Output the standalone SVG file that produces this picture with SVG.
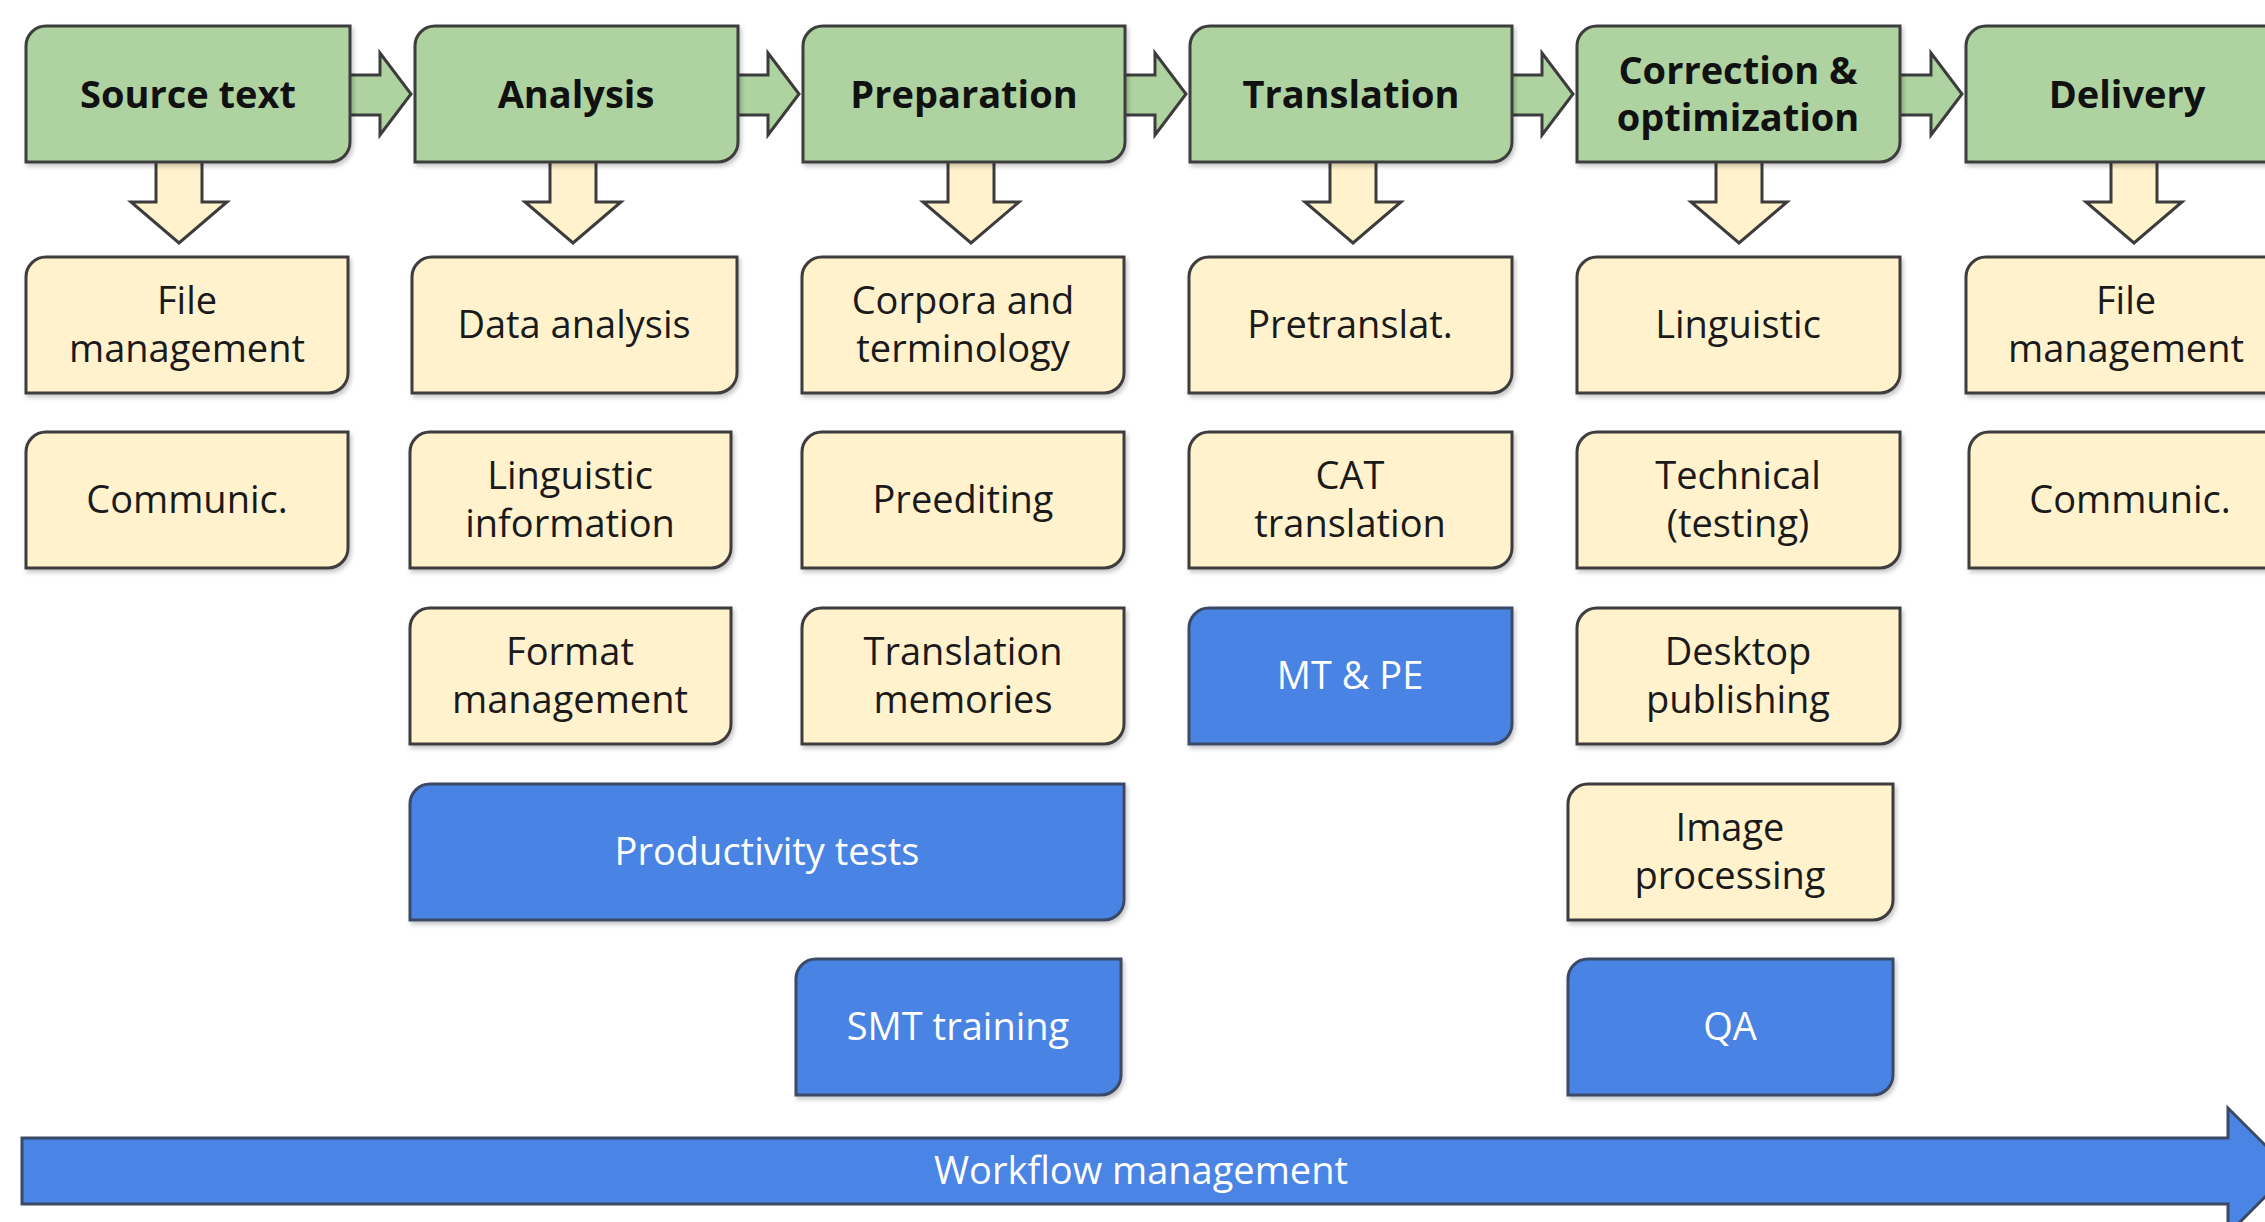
<svg xmlns="http://www.w3.org/2000/svg" width="2265" height="1222" viewBox="0 0 2265 1222">
<defs>
<filter id="sh" x="-5%" y="-5%" width="110%" height="120%">
<feDropShadow dx="2" dy="3" stdDeviation="2" flood-color="#000" flood-opacity="0.22"/>
</filter>
<style>
.g{fill:#aed3a0;stroke:#3c3c3c;stroke-width:3;filter:url(#sh)}
.c{fill:#fff2cc;stroke:#3c3c3c;stroke-width:3;filter:url(#sh)}
.b{fill:#4a84e4;stroke:#3a4a66;stroke-width:3;filter:url(#sh)}
.ha{fill:#aed3a0;stroke:#3c3c3c;stroke-width:3;stroke-linejoin:miter}
.da{fill:#fff2cc;stroke:#3c3c3c;stroke-width:3;stroke-linejoin:miter}
.wa{fill:#4a84e4;stroke:#3a4a66;stroke-width:3}
text{font-family:"Open Sans","Noto Sans",sans-serif;text-anchor:middle}
.ht{font-size:38px;font-weight:700;fill:#111}
.t{font-size:38px;fill:#1a1a1a}
.w{font-size:38px;fill:#fff}
</style>
</defs>
<rect width="2265" height="1222" fill="#fff"/>
<g id="connectors">
<polygon class="ha" points="348,75 380,75 380,53 411,94 380,135 380,115 348,115"/>
<polygon class="ha" points="736,75 768,75 768,53 799,94 768,135 768,115 736,115"/>
<polygon class="ha" points="1123,75 1155,75 1155,53 1186,94 1155,135 1155,115 1123,115"/>
<polygon class="ha" points="1510,75 1542,75 1542,53 1573,94 1542,135 1542,115 1510,115"/>
<polygon class="ha" points="1898,75 1931,75 1931,53 1962,94 1931,135 1931,115 1898,115"/>
<polygon class="da" points="156,160 202,160 202,202 227,202 179,243 131,202 156,202"/>
<polygon class="da" points="550,160 596,160 596,202 621,202 573,243 525,202 550,202"/>
<polygon class="da" points="948,160 994,160 994,202 1019,202 971,243 923,202 948,202"/>
<polygon class="da" points="1330,160 1376,160 1376,202 1401,202 1353,243 1305,202 1330,202"/>
<polygon class="da" points="1716,160 1762,160 1762,202 1787,202 1739,243 1691,202 1716,202"/>
<polygon class="da" points="2111,160 2157,160 2157,202 2182,202 2134,243 2086,202 2111,202"/>
</g>
<g id="stages">
<g id="source-text"><path class="g" d="M46,26 H350 V142 A20,20 0 0 1 330,162 H26 V46 A20,20 0 0 1 46,26 Z"/><text class="ht" x="188" y="108">Source text</text></g>
<g id="analysis"><path class="g" d="M435,26 H738 V142 A20,20 0 0 1 718,162 H415 V46 A20,20 0 0 1 435,26 Z"/><text class="ht" x="576" y="108">Analysis</text></g>
<g id="preparation"><path class="g" d="M823,26 H1125 V142 A20,20 0 0 1 1105,162 H803 V46 A20,20 0 0 1 823,26 Z"/><text class="ht" x="964" y="108">Preparation</text></g>
<g id="translation"><path class="g" d="M1210,26 H1512 V142 A20,20 0 0 1 1492,162 H1190 V46 A20,20 0 0 1 1210,26 Z"/><text class="ht" x="1351" y="108">Translation</text></g>
<g id="correction"><path class="g" d="M1597,26 H1900 V142 A20,20 0 0 1 1880,162 H1577 V46 A20,20 0 0 1 1597,26 Z"/><text class="ht" x="1738" y="84">Correction &amp;</text><text class="ht" x="1738" y="131">optimization</text></g>
<g id="delivery"><path class="g" d="M1986,26 H2289 V142 A20,20 0 0 1 2269,162 H1966 V46 A20,20 0 0 1 1986,26 Z"/><text class="ht" x="2127" y="108">Delivery</text></g>
</g>
<g id="tasks">
<g id="file-mgmt-1"><path class="c" d="M46,257 H348 V373 A20,20 0 0 1 328,393 H26 V277 A20,20 0 0 1 46,257 Z"/><text class="t" x="187" y="314">File</text><text class="t" x="187" y="362">management</text></g>
<g id="communic-1"><path class="c" d="M46,432 H348 V548 A20,20 0 0 1 328,568 H26 V452 A20,20 0 0 1 46,432 Z"/><text class="t" x="187" y="513">Communic.</text></g>
<g id="data-analysis"><path class="c" d="M432,257 H737 V373 A20,20 0 0 1 717,393 H412 V277 A20,20 0 0 1 432,257 Z"/><text class="t" x="574" y="338">Data analysis</text></g>
<g id="linguistic-info"><path class="c" d="M430,432 H731 V548 A20,20 0 0 1 711,568 H410 V452 A20,20 0 0 1 430,432 Z"/><text class="t" x="570" y="489">Linguistic</text><text class="t" x="570" y="537">information</text></g>
<g id="format-mgmt"><path class="c" d="M430,608 H731 V724 A20,20 0 0 1 711,744 H410 V628 A20,20 0 0 1 430,608 Z"/><text class="t" x="570" y="665">Format</text><text class="t" x="570" y="713">management</text></g>
<g id="corpora"><path class="c" d="M822,257 H1124 V373 A20,20 0 0 1 1104,393 H802 V277 A20,20 0 0 1 822,257 Z"/><text class="t" x="963" y="314">Corpora and</text><text class="t" x="963" y="362">terminology</text></g>
<g id="preediting"><path class="c" d="M822,432 H1124 V548 A20,20 0 0 1 1104,568 H802 V452 A20,20 0 0 1 822,432 Z"/><text class="t" x="963" y="513">Preediting</text></g>
<g id="tm"><path class="c" d="M822,608 H1124 V724 A20,20 0 0 1 1104,744 H802 V628 A20,20 0 0 1 822,608 Z"/><text class="t" x="963" y="665">Translation</text><text class="t" x="963" y="713">memories</text></g>
<g id="pretranslat"><path class="c" d="M1209,257 H1512 V373 A20,20 0 0 1 1492,393 H1189 V277 A20,20 0 0 1 1209,257 Z"/><text class="t" x="1350" y="338">Pretranslat.</text></g>
<g id="cat"><path class="c" d="M1209,432 H1512 V548 A20,20 0 0 1 1492,568 H1189 V452 A20,20 0 0 1 1209,432 Z"/><text class="t" x="1350" y="489">CAT</text><text class="t" x="1350" y="537">translation</text></g>
<g id="mt-pe"><path class="b" d="M1209,608 H1512 V724 A20,20 0 0 1 1492,744 H1189 V628 A20,20 0 0 1 1209,608 Z"/><text class="w" x="1350" y="689">MT &amp; PE</text></g>
<g id="linguistic"><path class="c" d="M1597,257 H1900 V373 A20,20 0 0 1 1880,393 H1577 V277 A20,20 0 0 1 1597,257 Z"/><text class="t" x="1738" y="338">Linguistic</text></g>
<g id="technical"><path class="c" d="M1597,432 H1900 V548 A20,20 0 0 1 1880,568 H1577 V452 A20,20 0 0 1 1597,432 Z"/><text class="t" x="1738" y="489">Technical</text><text class="t" x="1738" y="537">(testing)</text></g>
<g id="dtp"><path class="c" d="M1597,608 H1900 V724 A20,20 0 0 1 1880,744 H1577 V628 A20,20 0 0 1 1597,608 Z"/><text class="t" x="1738" y="665">Desktop</text><text class="t" x="1738" y="713">publishing</text></g>
<g id="image-processing"><path class="c" d="M1588,784 H1893 V900 A20,20 0 0 1 1873,920 H1568 V804 A20,20 0 0 1 1588,784 Z"/><text class="t" x="1730" y="841">Image</text><text class="t" x="1730" y="889">processing</text></g>
<g id="qa"><path class="b" d="M1588,959 H1893 V1075 A20,20 0 0 1 1873,1095 H1568 V979 A20,20 0 0 1 1588,959 Z"/><text class="w" x="1730" y="1040">QA</text></g>
<g id="productivity"><path class="b" d="M430,784 H1124 V900 A20,20 0 0 1 1104,920 H410 V804 A20,20 0 0 1 430,784 Z"/><text class="w" x="767" y="865">Productivity tests</text></g>
<g id="smt"><path class="b" d="M816,959 H1121 V1075 A20,20 0 0 1 1101,1095 H796 V979 A20,20 0 0 1 816,959 Z"/><text class="w" x="958" y="1040">SMT training</text></g>
<g id="file-mgmt-2"><path class="c" d="M1986,257 H2289 V373 A20,20 0 0 1 2269,393 H1966 V277 A20,20 0 0 1 1986,257 Z"/><text class="t" x="2126" y="314">File</text><text class="t" x="2126" y="362">management</text></g>
<g id="communic-2"><path class="c" d="M1989,432 H2292 V548 A20,20 0 0 1 2272,568 H1969 V452 A20,20 0 0 1 1989,432 Z"/><text class="t" x="2130" y="513">Communic.</text></g>
</g>
<g id="workflow">
<polygon class="wa" points="22,1138 2228,1138 2228,1108 2291,1171 2228,1234 2228,1204 22,1204"/>
<text class="w" x="1141" y="1184">Workflow management</text>
</g>
</svg>
